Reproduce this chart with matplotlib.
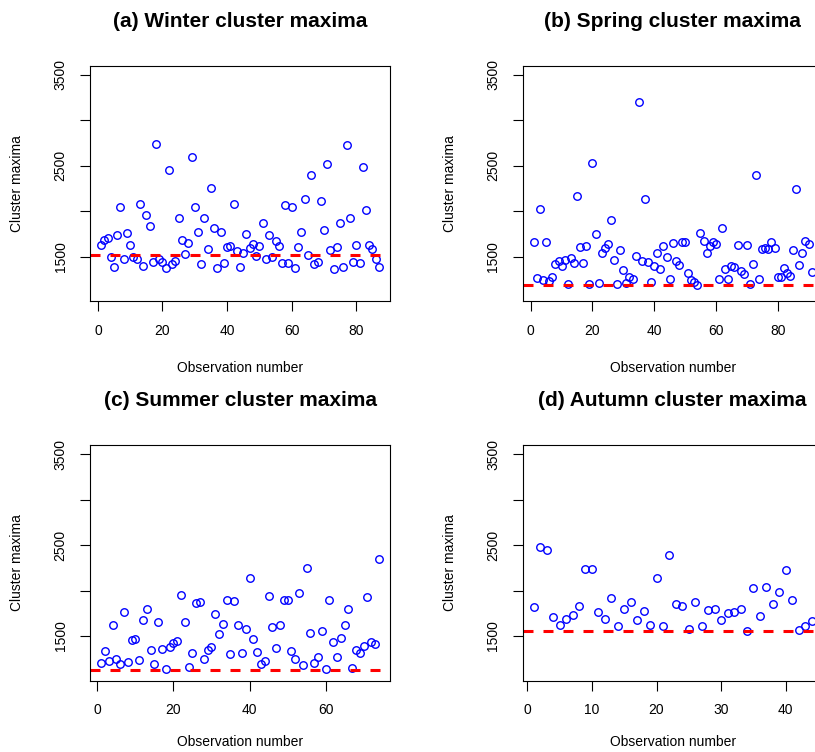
import numpy as np
import matplotlib
matplotlib.use("Agg")
import matplotlib.pyplot as plt

plt.rcParams['font.family'] = ['Liberation Sans', 'DejaVu Sans']
plt.rcParams['lines.scale_dashes'] = False

# cluster maxima per season
winter = [1625, 1684, 1702, 1493, 1382, 1739, 2044, 1471, 1765, 1625,
          1500, 1474, 2077, 1397, 1956, 1842, 1437, 2739, 1474, 1437,
          1371, 2452, 1423, 1452, 1923, 1680, 1529, 1654, 2595, 2044,
          1776, 1419, 1923, 1581, 2261, 1812, 1375, 1772, 1434, 1607,
          1621, 2077, 1559, 1382, 1544, 1754, 1596, 1640, 1507, 1618,
          1875, 1478, 1735, 1500, 1673, 1618, 1430, 2066, 1430, 2051,
          1375, 1603, 1772, 2132, 1515, 2397, 1419, 1441, 2118, 1790,
          2522, 1574, 1364, 1603, 1871, 1382, 2731, 1926, 1437, 1629,
          1434, 2489, 2018, 1625, 1581, 1478, 1382]
spring = [1665, 1265, 2029, 1239, 1662, 1235, 1279, 1423, 1449, 1401,
          1460, 1199, 1482, 1426, 2165, 1607, 1430, 1621, 1199, 2529,
          1750, 1206, 1544, 1599, 1640, 1904, 1463, 1199, 1570, 1353,
          1210, 1272, 1257, 1507, 3198, 1452, 2140, 1437, 1221, 1397,
          1544, 1364, 1621, 1500, 1254, 1651, 1456, 1412, 1658, 1658,
          1324, 1246, 1224, 1191, 1757, 1673, 1537, 1618, 1665, 1643,
          1257, 1820, 1368, 1257, 1401, 1390, 1625, 1342, 1313, 1632,
          1199, 1419, 2404, 1254, 1588, 1592, 1585, 1665, 1599, 1279,
          1276, 1371, 1320, 1290, 1574, 2242, 1408, 1540, 1677, 1636,
          1327]
summer = [1206, 1339, 1221, 1617, 1250, 1195, 1764, 1210, 1452, 1463,
          1232, 1672, 1794, 1350, 1188, 1650, 1361, 1133, 1379, 1427,
          1449, 1955, 1650, 1159, 1317, 1867, 1874, 1243, 1350, 1379,
          1746, 1518, 1628, 1896, 1305, 1885, 1617, 1309, 1573, 2142,
          1471, 1320, 1192, 1221, 1940, 1595, 1364, 1625, 1900, 1900,
          1335, 1243, 1970, 1181, 2245, 1533, 1199, 1272, 1555, 1140,
          1900, 1438, 1272, 1478, 1625, 1797, 1151, 1346, 1313, 1390,
          1926, 1434, 1408, 2344]
autumn = [1819, 2480, 2443, 1709, 1625, 1684, 1728, 1830, 2241, 2238,
          1764, 1691, 1918, 1606, 1797, 1878, 1672, 1772, 1625, 2135,
          1610, 2392, 1852, 1827, 1573, 1874, 1606, 1790, 1797, 1672,
          1757, 1764, 1801, 1555, 2025, 1720, 2036, 1849, 1984, 2227,
          1893, 1562, 1610, 1661]

thresholds = [1520, 1185, 1125, 1550]
titles = ["(a) Winter cluster maxima", "(b) Spring cluster maxima",
          "(c) Summer cluster maxima", "(d) Autumn cluster maxima"]
xticks = [[0, 20, 40, 60, 80], [0, 20, 40, 60, 80],
          [0, 20, 40, 60], [0, 10, 20, 30, 40]]
yticks = [1500, 2000, 2500, 3000, 3500]
yticklabels = ["1500", "", "2500", "", "3500"]

W, H = 815, 752
# box positions in pixels (left, top), width and height
boxes = [(90, 65.7), (522.7, 65.7), (90, 445), (522.7, 445)]
BW, BH = 300, 235.5
# distance of "Observation number" below the box (bottom row sits at the edge)
xlab_off = [67, 67, 62, 62]


def r_lim(lo, hi):
    d = (hi - lo) * 0.04
    return lo - d, hi + d


def panel(fig, box, y, thr, title, ticks, xoff):
    left, top = box
    ax = fig.add_axes([left / W, 1 - (top + BH) / H, BW / W, BH / H])
    x = np.arange(1, len(y) + 1)
    ax.plot(x, y, 'o', mfc='none', mec='blue', ms=5.4, mew=1.0)
    ax.axhline(thr, color='red', lw=2.2, dashes=(7.2, 7.2))
    ax.set_xlim(r_lim(1, len(y)))
    ax.set_ylim(1010, 3602)
    ax.set_xticks(ticks)
    ax.set_yticks(yticks)
    ax.set_yticklabels(yticklabels, rotation=90, va='center')
    ax.tick_params(direction='out', length=7.2, width=0.8, labelsize=10,
                   pad=9)
    for s in ax.spines.values():
        s.set_linewidth(0.8)
    ax.text(0.5, 1 + 44 / BH, title, transform=ax.transAxes, ha='center',
            va='center', fontsize=15, fontweight='bold')
    ax.text(0.5, -xoff / BH, "Observation number", transform=ax.transAxes,
            ha='center', va='center', fontsize=10)
    ax.text(-73 / BW, 0.5, "Cluster maxima", transform=ax.transAxes,
            ha='center', va='center', rotation=90, fontsize=10)
    return ax


def main():
    fig = plt.figure(figsize=(W / 100, H / 100), dpi=100)
    series = [winter, spring, summer, autumn]
    for i in range(4):
        panel(fig, boxes[i], series[i], thresholds[i], titles[i], xticks[i],
              xlab_off[i])
    fig.savefig("out.png", dpi=100)
    plt.close(fig)


if __name__ == "__main__":
    main()
